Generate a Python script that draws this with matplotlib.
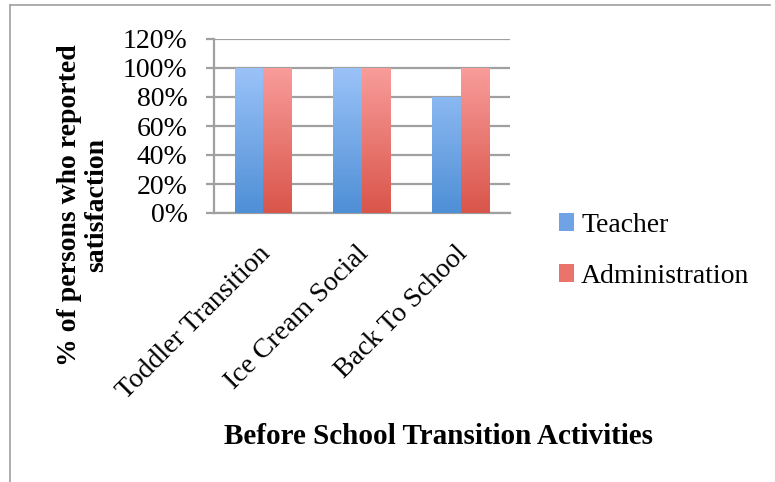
import numpy as np
import matplotlib
matplotlib.use('Agg')
import matplotlib.pyplot as plt
from matplotlib.colors import LinearSegmentedColormap
from matplotlib.patches import Patch
from matplotlib.lines import Line2D
from matplotlib.ticker import PercentFormatter

categories = ['Toddler Transition', 'Ice Cream Social', 'Back To School']
teacher = [1.0, 1.0, 0.8]
administration = [1.0, 1.0, 1.0]
series_names = ['Teacher', 'Administration']
y_ticks = [0, 0.2, 0.4, 0.6, 0.8, 1.0, 1.2]

plt.rcParams['font.family'] = ['Liberation Serif', 'DejaVu Serif']

W, H = 775, 482
fig = plt.figure(figsize=(W / 100, H / 100), dpi=100)
ax = fig.add_axes([214 / W, 1 - 213 / H, 296 / W, 174 / H])

grid_col = '#a0a0a0'
blue_cmap = LinearSegmentedColormap.from_list('b', ['#4f8fd6', '#aacdff'])
red_cmap = LinearSegmentedColormap.from_list('r', ['#d9554a', '#ffabab'])

x = np.arange(len(categories))
bw = 0.29
grad = np.linspace(0, 1, 256).reshape(-1, 1)

def gradient_bars(xpos, vals, cmap):
    bars = ax.bar(xpos, vals, bw, facecolor='none', edgecolor='none', zorder=3)
    for b in bars:
        x0 = b.get_x()
        im = ax.imshow(grad, cmap=cmap, origin='lower', aspect='auto',
                       extent=[x0, x0 + b.get_width(), 0, 1.2], zorder=3)
        im.set_clip_path(b)
    return bars

gradient_bars(x - bw / 2, teacher, blue_cmap)
gradient_bars(x + bw / 2, administration, red_cmap)

ax.set_xlim(-0.5, len(categories) - 0.5)
ax.set_ylim(0, 1.2)
ax.set_yticks(y_ticks)
ax.yaxis.set_major_formatter(PercentFormatter(1.0, decimals=0))
ax.yaxis.grid(True, color=grid_col, lw=1.6)
ax.set_axisbelow(True)
for s in ['top', 'right']:
    ax.spines[s].set_visible(False)
ax.spines['left'].set_color(grid_col)
ax.spines['left'].set_linewidth(1.6)
ax.spines['bottom'].set_color(grid_col)
ax.spines['bottom'].set_linewidth(1.6)
ax.tick_params(axis='y', length=6, width=1.6, color=grid_col, labelsize=20, pad=13)
ax.tick_params(axis='x', length=0, labelsize=20, pad=20)
ax.set_xticks(x - 0.06)
ax.set_xticklabels(categories, rotation=45, ha='right', rotation_mode='anchor')

fig.text(83 / W, 1 - 205 / H, '% of persons who reported\nsatisfaction',
         rotation=90, ha='center', va='center', fontsize=20, fontweight='bold',
         linespacing=1.15)
fig.text(438 / W, 1 - 437 / H, 'Before School Transition Activities',
         ha='center', va='center', fontsize=21, fontweight='bold')

handles = [Patch(facecolor='#6fa3e6'), Patch(facecolor='#ea736b')]
fig.legend(handles, series_names, loc='upper left',
           bbox_to_anchor=(559 / W, 1 - 213 / H), frameon=False, fontsize=20,
           handlelength=0.55, handleheight=0.6, handletextpad=0.25,
           labelspacing=0.92, borderpad=0, borderaxespad=0)

fig.add_artist(Line2D([10 / W, 770 / W], [1 - 5 / H, 1 - 5 / H], color=grid_col, lw=1.2))
fig.add_artist(Line2D([10 / W, 10 / W], [1 - 5 / H, 0], color=grid_col, lw=1.2))

fig.savefig('out.png', dpi=100)
